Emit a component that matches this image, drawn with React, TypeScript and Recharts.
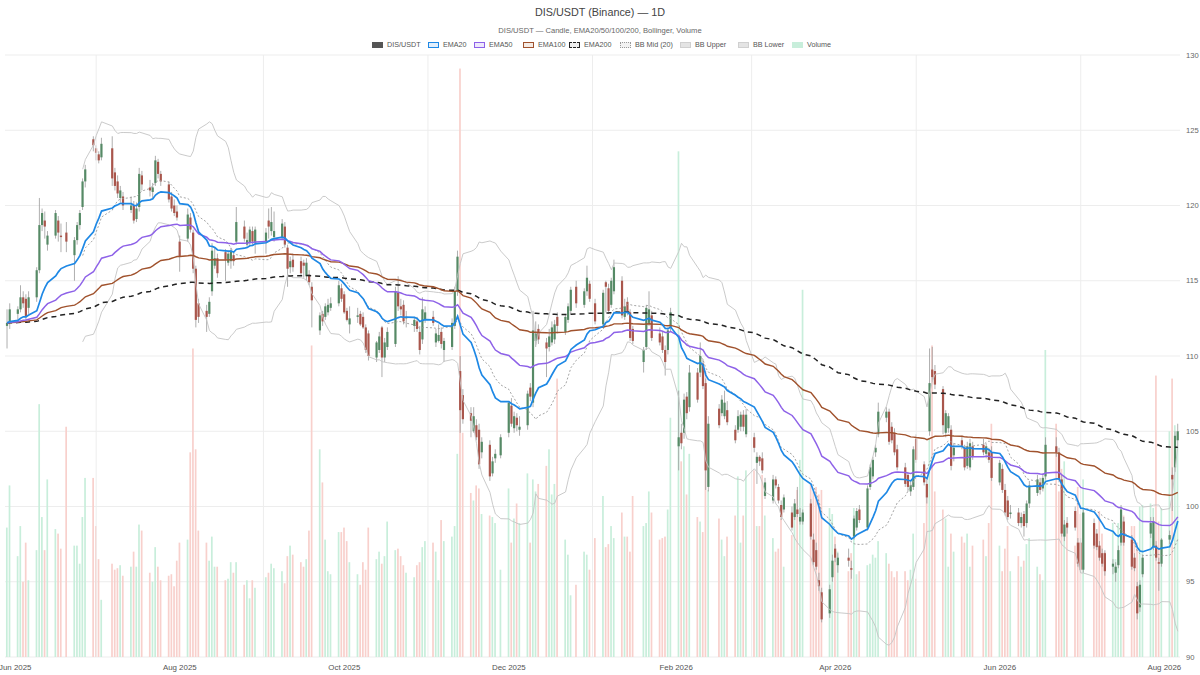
import React from 'react';
import { ComposedChart, Bar, Line, XAxis, YAxis, CartesianGrid, ReferenceLine } from 'recharts';

// trading calendar
const FIRST_DAY = '2025-05-29';
const LAST_DAY = '2026-08-06';
const HOLIDAYS = [
  '2025-06-19', '2025-07-04', '2025-09-01', '2025-11-27', '2025-12-25', '2026-01-01',
  '2026-01-19', '2026-02-16', '2026-04-03', '2026-05-25', '2026-06-19', '2026-07-03',
];
const LABEL_MONTHS = ['2025-06-01', '2025-08-01', '2025-10-01', '2025-12-01', '2026-02-01', '2026-04-01', '2026-06-01', '2026-08-01'];
const GRID_MONTHS = ['2025-07-01', '2025-09-01', '2025-11-01', '2026-01-01', '2026-03-01', '2026-05-01', '2026-07-01'];
const PRICE_TICKS = [90, 95, 100, 105, 110, 115, 120, 125, 130];

// one line per week
const opens = [
  112.0, 112.2,
  112.8, 113.1, 113.9, 113.8, 113.2,
  113.9, 115.7, 118.7, 119.0, 117.4,
  118.0, 119.0, 118.0, 118.2,
  116.7, 117.7, 118.7, 119.9, 121.6,
  124.4, 123.8, 123.4, 123.2,
  123.8, 122.2, 121.6, 120.5, 120.6,
  119.7, 120.0, 119.1, 119.9, 122.0,
  121.2, 120.9, 121.5, 122.9, 122.1,
  121.4, 120.6, 120.0, 119.6, 117.6,
  117.8, 119.2, 118.2, 115.8, 113.5,
  113.0, 112.8, 114.3, 116.0, 116.5,
  116.9, 116.2, 116.3, 116.7, 117.6,
  118.6, 117.4, 117.5, 118.3, 117.5,
  117.6, 119.0, 118.3, 117.9,
  117.9, 118.6, 117.2, 115.9, 116.4,
  116.3, 116.2, 115.3, 115.4, 114.6,
  111.7, 112.8, 112.6, 112.9, 113.2,
  113.5, 114.5, 114.1, 113.0, 112.1,
  112.6, 112.8, 112.6, 111.9, 111.5,
  109.9, 110.4, 111.9, 109.9, 110.6,
  110.8, 114.2, 113.3, 113.4, 112.5,
  112.0, 112.3, 111.6, 111.1, 112.4,
  112.6, 110.9, 111.0, 111.6, 110.4,
  110.6, 112.0, 114.3, 109.0, 107.4,
  106.2, 105.0, 105.4, 105.1, 103.6,
  104.1, 102.2, 103.2, 103.4,
  104.9, 106.7, 105.2, 105.9, 105.1,
  105.4, 107.9, 106.9, 111.0, 111.8,
  110.9, 110.6, 110.9, 111.1, 112.6,
  111.6, 112.4, 113.0, 114.6,
  113.4, 114.3, 114.8, 113.5,
  112.1, 114.9, 114.5, 113.4, 114.3,
  115.0, 112.6, 113.6, 112.9, 111.8,
  109.6, 110.6, 112.2, 112.7,
  111.5, 111.3, 110.4, 110.4, 111.9,
  104.0, 104.9, 104.9, 107.3, 106.6,
  108.9, 108.9, 109.5, 108.2, 101.3,
  106.5, 106.2, 106.0, 106.4,
  105.1, 105.1, 105.3, 106.1, 104.8,
  104.6, 102.9, 103.3, 103.2, 100.7,
  100.4, 101.8, 101.3, 100.1, 99.8,
  99.6, 99.3, 99.8, 99.0, 99.0,
  100.2, 97.8, 97.1, 95.1, 94.3,
  92.9, 95.3, 97.2, 96.1,
  96.6, 95.9, 98.0, 98.6, 99.8,
  98.6, 101.3, 102.0, 103.6, 104.8,
  105.9, 106.3, 105.3, 104.9, 103.8,
  102.6, 102.1, 101.0, 101.3, 104.5,
  102.8, 101.5, 105.0, 109.1, 109.0,
  107.8, 104.9, 105.2, 105.1, 103.4,
  104.4, 103.9, 102.7, 102.6, 104.0,
  104.1, 103.5, 103.6, 103.6,
  101.6, 102.5, 101.1, 100.4, 99.5,
  99.6, 98.9, 99.5, 98.9, 100.2,
  100.9, 101.6, 101.2, 102.0,
  104.0, 103.6, 101.8, 98.0, 98.9,
  99.7, 97.6, 97.6, 95.8,
  98.9, 98.2, 97.4, 96.9, 96.9,
  96.0, 95.6, 96.1, 97.6, 99.0,
  97.8, 96.6, 94.7, 93.3, 95.5,
  98.2, 97.3, 97.4, 96.3, 96.2,
  97.8, 102.1, 102.6, 104.4,
];

const highs = [
  113.1, 113.5,
  113.3, 114.7, 114.3, 114.1, 114.3,
  115.9, 120.5, 119.8, 119.6, 118.3,
  119.7, 119.3, 118.8, 118.9,
  117.9, 118.9, 119.7, 121.8, 122.7,
  124.6, 124.0, 123.6, 124.5,
  124.6, 122.5, 122.0, 121.3, 120.9,
  120.6, 120.3, 120.2, 122.5, 122.3,
  121.7, 121.5, 123.3, 123.1, 122.3,
  121.6, 120.9, 120.4, 120.0, 118.0,
  119.8, 119.5, 118.4, 116.0, 113.8,
  113.4, 113.9, 117.5, 117.2, 116.8,
  117.1, 117.0, 117.2, 116.9, 119.9,
  119.0, 118.2, 118.6, 118.6, 118.6,
  118.5, 119.8, 119.9, 119.6,
  119.1, 118.9, 117.4, 116.6, 116.8,
  116.6, 116.4, 116.5, 115.7, 114.9,
  112.9, 113.0, 113.5, 113.8, 113.9,
  115.0, 114.8, 114.3, 113.2, 113.3,
  113.2, 113.0, 112.9, 112.1, 111.7,
  111.0, 111.6, 112.0, 111.2, 111.9,
  114.6, 115.3, 113.8, 113.7, 113.0,
  112.6, 112.6, 112.0, 113.9, 113.3,
  113.0, 111.8, 112.1, 111.9, 111.2,
  112.5, 114.6, 117.0, 110.0, 107.8,
  106.6, 106.6, 105.8, 105.5, 104.6,
  104.4, 103.3, 103.8, 104.8,
  107.0, 107.2, 106.3, 106.2, 106.0,
  107.7, 108.2, 113.0, 112.3, 112.1,
  111.2, 111.8, 112.3, 112.4, 112.9,
  112.8, 113.5, 114.6, 115.0,
  114.5, 116.0, 115.0, 113.8,
  114.4, 115.0, 114.8, 115.2, 116.4,
  115.3, 113.8, 113.9, 113.1, 112.0,
  110.6, 113.4, 114.3, 113.0,
  111.9, 111.6, 110.7, 111.9, 113.2,
  107.7, 105.5, 107.5, 107.6, 109.4,
  109.2, 110.9, 109.8, 108.5, 106.0,
  106.8, 107.4, 107.7, 107.0,
  105.4, 106.4, 106.3, 106.4, 106.5,
  104.9, 103.6, 103.4, 103.6, 101.9,
  102.1, 102.0, 101.5, 100.4, 100.8,
  100.0, 100.5, 101.3, 99.9, 99.8,
  100.5, 98.2, 97.6, 95.6, 94.6,
  94.8, 96.8, 97.5, 96.9,
  97.2, 96.4, 99.4, 99.9, 100.1,
  101.4, 102.8, 103.3, 104.1, 106.9,
  106.6, 106.5, 105.6, 105.2, 104.1,
  102.9, 102.3, 101.7, 104.0, 104.8,
  103.0, 101.8, 110.5, 110.6, 109.4,
  108.0, 106.4, 106.2, 105.4, 104.2,
  104.7, 104.1, 104.3, 104.5, 104.3,
  104.5, 104.2, 103.9, 104.0,
  103.1, 102.8, 101.5, 100.7, 100.1,
  99.9, 99.6, 99.7, 100.4, 101.7,
  102.1, 101.9, 102.2, 104.6,
  104.6, 103.9, 102.1, 99.1, 99.3,
  100.0, 97.9, 97.9, 99.8,
  99.2, 98.5, 97.7, 97.2, 97.1,
  96.5, 96.3, 97.4, 100.1, 99.3,
  98.1, 96.9, 95.0, 95.1, 96.8,
  99.3, 99.3, 97.7, 96.6, 97.9,
  98.4, 102.6, 105.0, 105.5,
];

const lows = [
  110.5, 111.8,
  112.4, 112.9, 113.2, 112.2, 112.8,
  113.6, 115.5, 118.3, 117.8, 117.0,
  117.8, 117.6, 116.9, 116.9,
  115.0, 117.4, 118.4, 119.7, 121.2,
  123.6, 123.0, 122.8, 123.0,
  121.3, 121.0, 120.5, 120.2, 119.7,
  119.5, 118.8, 118.9, 119.6, 121.0,
  120.6, 120.5, 121.3, 121.8, 121.3,
  120.2, 119.6, 119.3, 119.0, 115.6,
  117.6, 118.2, 115.5, 111.9, 112.2,
  111.6, 112.6, 114.0, 115.8, 115.2,
  115.0, 116.0, 115.8, 116.0, 117.4,
  117.6, 117.3, 117.3, 117.4, 116.8,
  116.8, 117.8, 118.0, 117.6,
  117.7, 117.2, 114.6, 115.5, 115.6,
  115.3, 115.2, 115.0, 114.7, 111.9,
  111.4, 112.0, 112.4, 112.7, 113.0,
  113.3, 113.6, 112.8, 112.3, 111.5,
  112.2, 112.0, 111.8, 110.2, 109.7,
  109.6, 110.2, 108.6, 109.6, 110.4,
  110.6, 113.0, 112.7, 112.1, 111.9,
  111.6, 111.6, 110.1, 110.8, 112.2,
  112.0, 110.6, 110.9, 110.5, 109.6,
  110.4, 111.8, 114.0, 104.9, 105.5,
  104.6, 104.9, 104.4, 102.5, 103.2,
  101.7, 102.0, 102.9, 103.2,
  104.6, 105.3, 104.9, 105.0, 104.7,
  105.1, 107.0, 106.6, 110.6, 110.8,
  108.6, 110.3, 110.7, 110.8, 111.5,
  111.4, 112.2, 112.8, 113.2,
  113.2, 114.0, 113.6, 112.1,
  111.9, 112.9, 112.8, 113.2, 114.1,
  112.5, 112.4, 112.7, 111.0, 110.8,
  108.9, 110.4, 112.0, 111.0,
  110.7, 110.2, 108.7, 110.1, 111.6,
  102.4, 103.8, 104.5, 105.8, 106.3,
  106.9, 108.6, 107.8, 101.1, 101.0,
  105.2, 106.0, 105.8, 105.4,
  104.2, 104.9, 105.0, 105.0, 104.6,
  103.6, 101.5, 102.7, 102.2, 100.5,
  100.2, 101.2, 100.2, 99.1, 99.6,
  98.4, 99.1, 99.3, 98.8, 98.8,
  97.8, 96.1, 95.8, 94.4, 92.3,
  92.6, 95.0, 96.3, 95.6,
  96.0, 95.2, 97.8, 98.4, 98.9,
  98.4, 101.1, 101.8, 103.3, 104.6,
  105.6, 104.1, 104.2, 103.4, 102.4,
  101.3, 101.0, 100.7, 101.1, 102.9,
  101.4, 100.2, 104.7, 108.3, 107.8,
  104.8, 104.6, 104.9, 102.4, 103.0,
  103.8, 102.4, 102.5, 102.4, 103.1,
  103.4, 103.2, 102.9, 101.7,
  101.4, 100.9, 99.4, 99.1, 99.2,
  98.7, 98.6, 98.0, 98.6, 99.9,
  100.7, 100.8, 101.0, 101.8,
  103.3, 101.6, 98.0, 97.7, 98.2,
  98.4, 96.0, 95.6, 95.6,
  97.2, 97.1, 96.4, 96.0, 95.4,
  95.5, 95.0, 95.9, 97.4, 97.4,
  95.8, 95.7, 92.5, 93.0, 95.3,
  97.9, 97.1, 96.4, 94.4, 96.0,
  97.5, 99.7, 102.3, 104.0,
];

const closes = [
  112.2, 113.1,
  113.1, 113.9, 113.5, 112.6, 113.9,
  115.7, 118.7, 119.5, 118.6, 118.0,
  119.5, 118.2, 117.9, 117.6,
  117.7, 118.7, 119.5, 121.6, 122.4,
  124.0, 123.5, 123.0, 124.1,
  121.8, 121.3, 120.8, 121.0, 120.0,
  120.0, 119.0, 119.8, 122.1, 121.4,
  121.0, 121.2, 123.0, 122.1, 121.6,
  120.4, 119.8, 119.5, 119.2, 116.6,
  119.4, 118.4, 115.8, 112.4, 112.6,
  112.6, 113.6, 117.0, 116.5, 115.5,
  116.4, 116.8, 117.0, 116.3, 118.9,
  117.8, 117.7, 118.4, 117.6, 118.4,
  118.2, 118.6, 118.9, 118.3,
  118.8, 117.4, 115.8, 116.3, 115.9,
  115.5, 116.0, 116.2, 114.9, 113.7,
  112.7, 112.3, 113.3, 113.4, 113.5,
  114.7, 113.8, 112.9, 112.4, 112.5,
  112.7, 112.1, 111.9, 110.4, 110.0,
  110.9, 111.3, 109.9, 110.9, 111.6,
  114.3, 113.3, 113.1, 112.3, 112.6,
  112.4, 111.8, 110.4, 113.1, 112.9,
  112.2, 111.5, 111.4, 110.8, 111.0,
  112.2, 114.3, 116.6, 106.4, 105.8,
  105.7, 106.0, 104.6, 102.8, 104.3,
  102.0, 103.0, 103.5, 104.6,
  106.9, 105.5, 106.0, 105.4, 105.3,
  107.5, 107.3, 111.7, 111.5, 111.1,
  110.5, 111.3, 111.9, 112.1, 112.0,
  112.6, 113.3, 114.4, 113.5,
  114.3, 115.2, 113.8, 112.3,
  114.2, 114.6, 113.0, 115.0, 115.9,
  112.7, 113.3, 112.9, 111.2, 111.0,
  110.4, 113.2, 113.1, 111.2,
  110.9, 110.4, 109.6, 111.7, 112.9,
  104.6, 104.2, 107.1, 106.2, 108.9,
  107.1, 110.0, 108.0, 102.4, 105.5,
  105.4, 107.1, 106.9, 105.6,
  104.4, 106.0, 106.1, 105.3, 106.1,
  103.9, 103.3, 103.0, 102.4, 101.6,
  101.8, 101.4, 100.4, 99.3, 100.6,
  98.6, 100.2, 99.5, 99.3, 99.6,
  98.0, 96.3, 96.0, 94.7, 92.5,
  94.5, 96.4, 96.6, 96.6,
  96.4, 95.8, 99.2, 99.7, 99.1,
  101.2, 102.6, 103.1, 103.9, 106.3,
  106.3, 104.3, 104.4, 103.6, 102.6,
  101.5, 101.3, 101.4, 103.8, 103.1,
  101.6, 100.6, 108.2, 108.6, 108.1,
  105.4, 106.2, 106.0, 102.7, 103.9,
  104.0, 102.6, 104.0, 104.2, 103.3,
  103.6, 104.0, 103.1, 101.9,
  102.9, 101.1, 99.6, 99.3, 99.6,
  98.9, 99.3, 98.7, 100.2, 101.4,
  101.8, 101.1, 101.9, 104.1,
  103.6, 101.8, 98.2, 98.8, 98.6,
  98.6, 96.2, 95.8, 99.6,
  97.4, 97.3, 96.6, 96.2, 95.7,
  96.2, 96.0, 97.1, 99.8, 97.6,
  96.0, 95.9, 92.9, 94.8, 96.6,
  98.9, 99.0, 96.6, 96.2, 97.8,
  98.1, 101.8, 104.7, 105.0,
];

// millions
const volumes = [
  8.6, 11.4,
  6.7, 8.7, 5.0, 7.6, 5.1,
  7.1, 16.8, 9.3, 7.1, 11.8,
  8.5, 8.2, 7.2, 15.3,
  7.4, 7.4, 6.2, 9.3, 11.9,
  11.9, 8.7, 6.5, 3.8,
  6.2, 5.8, 5.9, 6.1, 5.4,
  6.0, 7.0, 6.0, 8.8, 8.4,
  5.6, 5.0, 7.3, 6.0, 5.1,
  5.4, 5.5, 4.7, 6.4, 7.6,
  7.8, 13.6, 20.5, 13.8, 8.4,
  7.6, 6.4, 8.0, 6.0, 6.0,
  5.1, 5.2, 6.3, 5.6, 6.3,
  4.8, 5.1, 3.9, 5.1, 4.6,
  5.3, 5.6, 6.2, 5.9,
  5.7, 4.9, 6.7, 7.4, 6.8,
  6.3, 6.0, 6.5, 8.4, 20.7,
  13.8, 11.6, 7.8, 5.7, 5.5,
  8.3, 8.3, 8.6, 7.7, 6.3,
  5.5, 4.8, 6.3, 5.8, 8.6,
  6.5, 7.0, 6.2, 6.7, 9.0,
  7.1, 7.2, 6.7, 6.1, 5.6,
  5.3, 6.1, 6.3, 7.3, 7.7,
  7.6, 7.0, 5.1, 9.1, 7.7,
  8.0, 8.7, 13.5, 39.1, 14.9,
  10.9, 10.4, 11.4, 11.2, 9.5,
  9.4, 9.3, 8.9, 5.8,
  11.2, 7.6, 9.2, 10.2, 8.9,
  12.2, 7.6, 11.8, 11.0, 11.5,
  12.7, 13.8, 10.8, 11.5, 18.5,
  7.8, 6.8, 4.1, 4.8,
  7.0, 6.8, 5.8, 7.9,
  10.7, 7.3, 7.5, 8.7, 7.9,
  9.6, 8.0, 8.0, 7.0, 10.7,
  8.7, 8.9, 11.0, 9.6,
  7.8, 7.9, 8.0, 9.8, 15.9,
  33.6, 13.0, 14.0, 10.8, 13.5,
  9.3, 9.0, 8.3, 19.0, 11.1,
  9.2, 7.8, 6.7, 8.0,
  9.4, 12.0, 7.6, 9.4, 12.4,
  12.4, 8.7, 8.7, 12.1, 9.4,
  7.9, 7.0, 7.2, 9.2, 6.0,
  8.1, 9.5, 11.1, 13.1, 24.4,
  11.5, 11.0, 11.3, 10.8, 11.1,
  9.9, 9.5, 8.0, 7.0,
  5.7, 6.9, 9.9, 5.5, 5.7,
  6.1, 6.2, 6.8, 6.6, 7.7,
  6.9, 6.2, 5.7, 5.3, 5.7,
  5.7, 5.1, 5.8, 8.2, 5.2,
  8.9, 10.6, 14.5, 20.7, 11.0,
  9.8, 9.2, 6.0, 8.2, 7.0,
  8.0, 7.6, 8.2, 6.0, 7.4,
  7.8, 6.7, 8.9, 15.5,
  7.4, 5.7, 7.2, 8.7, 5.7,
  6.7, 6.0, 6.4, 7.5, 7.9,
  6.0, 5.5, 5.1, 20.4,
  15.5, 11.0, 12.5, 13.0, 9.0,
  7.4, 11.3, 9.5, 11.8,
  8.9, 7.7, 9.7, 8.2, 7.0,
  8.9, 6.5, 8.9, 10.0, 9.4,
  8.7, 8.7, 7.6, 10.0, 10.1,
  10.2, 9.9, 18.7, 9.0, 9.9,
  15.0, 18.5, 15.4, 14.0,
];

const UP = '#568a66';
const DOWN = '#a9564c';
const WICK = '#9a9a9a';
const VOL_UP = '#c8eedb';
const VOL_DOWN = '#f8d0cc';
const MONTHS = ['Jan', 'Feb', 'Mar', 'Apr', 'May', 'Jun', 'Jul', 'Aug', 'Sep', 'Oct', 'Nov', 'Dec'];

const DAY_MS = 86400000;
const T0 = Date.parse(FIRST_DAY + 'T00:00:00Z');
const dayNum = (iso: string) => Math.round((Date.parse(iso + 'T00:00:00Z') - T0) / DAY_MS);

function tradingDays(): number[] {
  const out: number[] = [];
  const last = dayNum(LAST_DAY);
  for (let d = 0; d <= last; d++) {
    const date = new Date(T0 + d * DAY_MS);
    const wd = date.getUTCDay();
    if (wd === 0 || wd === 6) continue;
    if (HOLIDAYS.includes(date.toISOString().slice(0, 10))) continue;
    out.push(d);
  }
  return out;
}

function ema(src: number[], n: number) {
  const k = 2 / (n + 1);
  const out: number[] = [];
  src.forEach((v, i) => out.push(i === 0 ? v : v * k + out[i - 1] * (1 - k)));
  return out;
}

function buildRows() {
  const days = tradingDays();
  const n = Math.min(days.length, opens.length, highs.length, lows.length, closes.length, volumes.length);
  const c = closes.slice(0, n);
  const e20 = ema(c, 20), e50 = ema(c, 50), e100 = ema(c, 100), e200 = ema(c, 200);
  const rows: any[] = [];
  for (let i = 0; i < n; i++) {
    let mid = null, upper = null, lower = null;
    if (i >= 19) {
      const win = c.slice(i - 19, i + 1);
      const m = win.reduce((a, b) => a + b, 0) / 20;
      const sd = Math.sqrt(win.reduce((a, b) => a + (b - m) * (b - m), 0) / 19);
      mid = m; upper = m + 2 * sd; lower = m - 2 * sd;
    }
    rows.push({
      t: days[i], o: opens[i], h: highs[i], l: lows[i], c: closes[i], v: volumes[i],
      up: closes[i] >= opens[i],
      ema20: e20[i], ema50: e50[i], ema100: e100[i], ema200: e200[i],
      bbMid: mid, bbUp: upper, bbLow: lower,
    });
  }
  return rows;
}

const rows = buildRows();

const Candle = (props: any) => {
  const { x, y, width, height, payload } = props;
  if (!payload || height == null) return null;
  const { o, h, l, c } = payload;
  const cx = x + width / 2;
  const k = h - l > 0 ? height / (h - l) : 0;
  const top = y + (h - Math.max(o, c)) * k;
  const bottom = y + (h - Math.min(o, c)) * k;
  const bw = 2.2;
  return (
    <g>
      <line x1={cx} x2={cx} y1={y} y2={y + height} stroke={WICK} strokeWidth={0.8} />
      <rect x={cx - bw / 2} y={top} width={bw} height={Math.max(bottom - top, 0.8)} fill={c >= o ? UP : DOWN} />
    </g>
  );
};

const VolumeBar = (props: any) => {
  const { x, y, width, height, payload } = props;
  if (!payload || !height) return null;
  const cx = x + width / 2;
  return <rect x={cx - 0.85} y={y} width={1.7} height={height} fill={payload.up ? VOL_UP : VOL_DOWN} />;
};

const monthLabel = (d: number) => {
  const dt = new Date(T0 + d * DAY_MS);
  return `${MONTHS[dt.getUTCMonth()]} ${dt.getUTCFullYear()}`;
};

const LEGEND = [
  { label: 'DIS/USDT', x: 372, box: { background: '#555', border: '1px solid #555' } },
  { label: 'EMA20', x: 428, box: { background: '#e2effc', border: '1.5px solid #1e88e5' } },
  { label: 'EMA50', x: 474, box: { background: '#eee8fd', border: '1.5px solid #8e62e8' } },
  { label: 'EMA100', x: 523, box: { background: '#f5ebe4', border: '1.5px solid #a0522d' } },
  { label: 'EMA200', x: 569, box: { background: '#eeeeee', border: '1.5px dashed #222' } },
  { label: 'BB Mid (20)', x: 620, box: { background: '#f2f2f2', border: '1px dotted #999' } },
  { label: 'BB Upper', x: 680, box: { background: '#e4e4e4', border: '1px solid #d0d0d0' } },
  { label: 'BB Lower', x: 738, box: { background: '#e4e4e4', border: '1px solid #d0d0d0' } },
  { label: 'Volume', x: 792, box: { background: '#c8eedb', border: '1px solid #c8eedb' } },
];

export default function App() {
  const font = '"Liberation Sans", Arial, Helvetica, sans-serif';
  return (
    <div style={{ position: 'absolute', left: 0, top: 0, width: 1200, height: 675, background: '#fff', fontFamily: font }}>
      <div style={{ position: 'absolute', top: 6, left: 0, width: 1200, textAlign: 'center', fontSize: 10.8, color: '#444' }}>
        DIS/USDT (Binance) — 1D
      </div>
      <div style={{ position: 'absolute', top: 26, left: 0, width: 1200, textAlign: 'center', fontSize: 7.6, color: '#666' }}>
        DIS/USDT — Candle, EMA20/50/100/200, Bollinger, Volume
      </div>
      {LEGEND.map((item) => (
        <div key={item.label} style={{ position: 'absolute', top: 40, left: item.x, height: 9, display: 'flex', alignItems: 'center', fontSize: 7.2, color: '#555', whiteSpace: 'nowrap' }}>
          <span style={{ display: 'inline-block', width: 11, height: 6, marginRight: 4, boxSizing: 'border-box', ...item.box }} />
          {item.label}
        </div>
      ))}
      <ComposedChart
        width={1200}
        height={675}
        data={rows}
        margin={{ top: 55, right: 0, bottom: 0, left: 5 }}
        style={{ position: 'absolute', left: 0, top: 0 }}
      >
        <CartesianGrid xAxisId="x" yAxisId="p" vertical={false} stroke="#ededed" />
        {GRID_MONTHS.map((m) => (
          <ReferenceLine key={m} xAxisId="x" yAxisId="p" x={dayNum(m)} stroke="#ededed" />
        ))}
        <XAxis
          xAxisId="x"
          dataKey="t"
          type="number"
          domain={[-0.8, 434.8]}
          allowDataOverflow
          ticks={LABEL_MONTHS.map(dayNum)}
          tickFormatter={monthLabel}
          axisLine={false}
          tickLine={false}
          tickSize={4}
          tickMargin={3}
          height={18}
          tick={{ fontSize: 7.9, fill: '#555' }}
        />
        <XAxis xAxisId="xv" dataKey="t" type="number" domain={[-0.8, 434.8]} allowDataOverflow hide />
        <YAxis
          yAxisId="p"
          orientation="right"
          domain={[90, 130]}
          allowDataOverflow
          ticks={PRICE_TICKS}
          axisLine={false}
          tickLine={false}
          tickSize={3}
          tickMargin={3}
          width={20}
          tick={{ fontSize: 7.6, fill: '#666' }}
        />
        <YAxis yAxisId="v" domain={[0, 40]} allowDataOverflow hide />
        <Bar xAxisId="xv" yAxisId="v" dataKey="v" barSize={2} shape={<VolumeBar />} isAnimationActive={false} />
        <Bar xAxisId="x" yAxisId="p" dataKey={(d: any) => [d.l, d.h]} barSize={3} shape={<Candle />} isAnimationActive={false} />
        <Line xAxisId="x" yAxisId="p" dataKey="bbUp" stroke="#c4c4c4" strokeWidth={0.9} dot={false} isAnimationActive={false} />
        <Line xAxisId="x" yAxisId="p" dataKey="bbLow" stroke="#c4c4c4" strokeWidth={0.9} dot={false} isAnimationActive={false} />
        <Line xAxisId="x" yAxisId="p" dataKey="bbMid" stroke="#9a9a9a" strokeWidth={0.9} strokeDasharray="2 2" dot={false} isAnimationActive={false} />
        <Line xAxisId="x" yAxisId="p" dataKey="ema200" stroke="#222" strokeWidth={1.5} strokeDasharray="5 4" dot={false} isAnimationActive={false} />
        <Line xAxisId="x" yAxisId="p" dataKey="ema100" stroke="#a0522d" strokeWidth={1.4} dot={false} isAnimationActive={false} />
        <Line xAxisId="x" yAxisId="p" dataKey="ema50" stroke="#8e62e8" strokeWidth={1.5} dot={false} isAnimationActive={false} />
        <Line xAxisId="x" yAxisId="p" dataKey="ema20" stroke="#1e88e5" strokeWidth={1.7} dot={false} isAnimationActive={false} />
      </ComposedChart>
    </div>
  );
}
